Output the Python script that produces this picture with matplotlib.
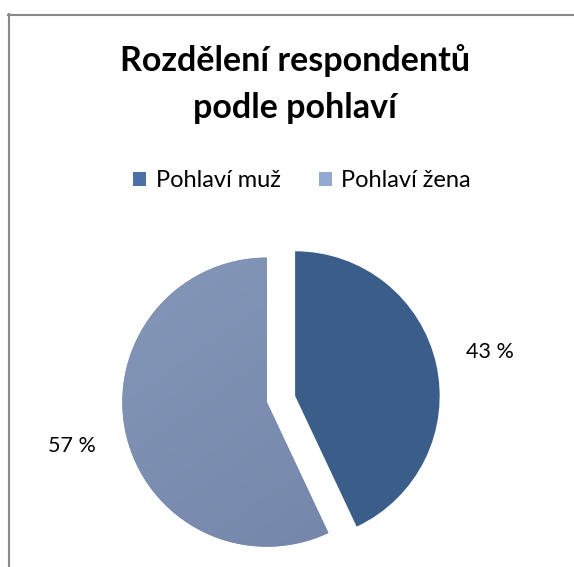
import matplotlib
matplotlib.use("Agg")
from matplotlib import pyplot as plt
from matplotlib.patches import Patch
from matplotlib.lines import Line2D
from matplotlib.colors import LinearSegmentedColormap
import numpy as np

# data
categories = ["Pohlaví muž", "Pohlaví žena"]
shares = [43, 57]
pie_colors = ["#3a5d8a", "#7b8eb0"]
legend_colors = ["#4a72a6", "#94a9cf"]
title = "Rozdělení respondentů\npodle pohlaví"

plt.rcParams["font.family"] = ["Lato", "DejaVu Sans"]

W, H = 574, 567
fig = plt.figure(figsize=(W / 100, H / 100), dpi=100)

# pie axes: centre at (281, 399) px, radius 139 px
cx, cy, r = 281, 399, 139
half = 1.3
ax = fig.add_axes([(cx - half * r) / W, (H - cy - half * r) / H,
                   2 * half * r / W, 2 * half * r / H])
ax.set_xlim(-half, half)
ax.set_ylim(-half, half)
ax.set_aspect("equal")
ax.axis("off")

wedges, texts, autotexts = ax.pie(
    shares, colors=pie_colors, startangle=90, counterclock=False,
    explode=[0.1, 0.1], radius=1,
    autopct=lambda p: f"{p:.0f} %", pctdistance=1.38,
    textprops={"fontsize": 15.5, "color": "black"},
    wedgeprops={"linewidth": 0})
for w in wedges:
    w.set_clip_on(False)

# soft shading on the female slice, like the Excel fill
grad = np.linspace(0, 1, 200)
gx, gy = np.meshgrid(grad, grad)
cmap = LinearSegmentedColormap.from_list("fem", ["#8799bb", "#7284a7"])
img = ax.imshow(0.35 * gx + 0.65 * gy, cmap=cmap, extent=(-1.35, 0.6, -1.35, 1.15),
                origin="upper", zorder=wedges[1].get_zorder() + 0.1)
img.set_clip_path(wedges[1])
img.set_clip_on(True)

fig.text(295 / W, 1 - 84 / H, title, ha="center", va="center",
         fontsize=24.5, fontweight="bold", linespacing=1.55)

handles = [Patch(facecolor=c, edgecolor="none") for c in legend_colors]
fig.legend(handles, categories, loc="center", bbox_to_anchor=(302 / W, 1 - 181 / H),
           ncol=2, frameon=False, fontsize=17, handlelength=0.55, handleheight=0.55,
           handletextpad=0.4, columnspacing=1.6)

# border lines (top and left) like the chart frame
fig.add_artist(Line2D([8 / W, 1], [1 - 14.5 / H] * 2, color="#888888", lw=1.5))
fig.add_artist(Line2D([8.5 / W] * 2, [0, 1 - 14 / H], color="#888888", lw=1.5))

fig.savefig("out.png", dpi=100)
